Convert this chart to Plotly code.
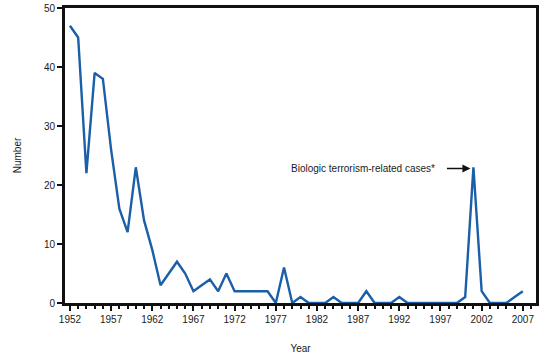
import plotly.graph_objects as go

years = list(range(1952, 2008))
cases = [47, 45, 22, 39, 38, 26, 16, 12, 23, 14,
         9, 3, 5, 7, 5, 2, 3, 4, 2, 5,
         2, 2, 2, 2, 2, 0, 6, 0, 1, 0,
         0, 0, 1, 0, 0, 0, 2, 0, 0, 0,
         1, 0, 0, 0, 0, 0, 0, 0, 1, 23,
         2, 0, 0, 0, 1, 2]
x_ticks = list(range(1952, 2008, 5))
y_ticks = [0, 10, 20, 30, 40, 50]
annot_text = "Biologic terrorism-related cases*"

fig = go.Figure()
fig.add_trace(go.Scatter(x=years, y=cases, mode="lines",
                         line=dict(color="#1a5fa8", width=2.4),
                         showlegend=False, hoverinfo="skip"))

font = dict(family="Liberation Sans, Arial, sans-serif", size=10, color="#1a1a1a")

fig.update_layout(
    width=552, height=357,
    margin=dict(l=65, r=16, t=8, b=54, autoexpand=False),
    paper_bgcolor="white", plot_bgcolor="white",
    font=font,
    xaxis=dict(range=[1951.4, 2008.6], tickvals=x_ticks, ticks="outside",
               ticklen=5, tickwidth=2, tickcolor="#111",
               minor=dict(dtick=1, tick0=1952, ticks="outside", ticklen=3,
                          tickwidth=1.5, tickcolor="#111", showgrid=False),
               showline=True, linewidth=3, linecolor="#111", mirror=True,
               showgrid=False, zeroline=False, automargin=False,
               title=dict(text="Year", font=dict(size=10), standoff=21)),
    yaxis=dict(range=[0, 50], tickvals=y_ticks, ticks="outside",
               ticklen=5, tickwidth=2, tickcolor="#111",
               showline=True, linewidth=3, linecolor="#111", mirror=True,
               showgrid=False, zeroline=False, automargin=False,
               title=dict(text="Number", font=dict(size=10), standoff=21)),
)

fig.add_annotation(x=2001, y=cases[years.index(2001)] - 0.2, xref="x", yref="y",
                   ax=-28, ay=0, axref="pixel", ayref="pixel",
                   text="", showarrow=True, arrowhead=2, arrowsize=1,
                   arrowwidth=1.6, arrowcolor="#111", standoff=3)
fig.add_annotation(x=1996.6, y=cases[years.index(2001)] - 0.2, xref="x", yref="y",
                   text=annot_text, showarrow=False, xanchor="right",
                   yanchor="middle", font=dict(size=10, color="#1a1a1a"))

fig.write_html("out.html", config={"displayModeBar": False},
               post_script="document.body.style.margin='0';document.body.style.overflow='hidden';")
